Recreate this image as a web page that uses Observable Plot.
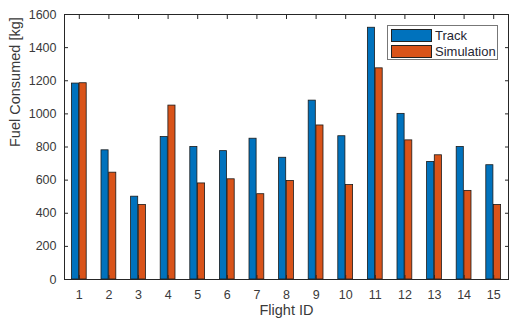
<!DOCTYPE html>
<html>
<head>
<meta charset="utf-8">
<script src="https://cdn.jsdelivr.net/npm/d3@7"></script>
<script src="https://cdn.jsdelivr.net/npm/@observablehq/plot@0.6"></script>
<style>
  html, body { margin: 0; padding: 0; background: #fff; }
  #wrap { position: relative; width: 512px; height: 323px; font-family: "Liberation Sans", Arial, sans-serif; }
  #legend { position: absolute; left: 387px; top: 25px; width: 111px; height: 35px; border: 1px solid #777; background: #fff; box-sizing: border-box; }
  .item { position: absolute; left: 3px; height: 13px; display: flex; align-items: center; font-size: 13px; color: #262633; }
  .sw { width: 41px; height: 13px; border: 1px solid #222; box-sizing: border-box; margin-right: 3px; }
</style>
</head>
<body>
<div id="wrap"></div>
<script>
const flights = [1,2,3,4,5,6,7,8,9,10,11,12,13,14,15];
const track = [1183, 780, 500, 860, 800, 775, 850, 735, 1080, 865, 1520, 1000, 710, 800, 690];
const simulation = [1185, 645, 450, 1050, 580, 605, 515, 595, 930, 570, 1275, 840, 750, 535, 450];
const seriesNames = ["Track", "Simulation"];
const seriesColors = ["#0072BD", "#D95319"];
const yTicks = [0,200,400,600,800,1000,1200,1400,1600];

const rows = [];
flights.forEach((f, i) => {
  rows.push({flight: f, series: "Track", value: track[i], x1: f - 0.25, x2: f - 0.01});
  rows.push({flight: f, series: "Simulation", value: simulation[i], x1: f + 0.01, x2: f + 0.25});
});

const ink = "#262626";
const tickCol = "#3a3a3a";
const blank = () => "";

const chart = Plot.plot({
  width: 512,
  height: 323,
  marginLeft: 64,
  marginRight: 4,
  marginTop: 14,
  marginBottom: 44,
  style: {fontFamily: "'Liberation Sans', Arial, sans-serif", background: "#fff", overflow: "visible"},
  x: {domain: [0.5, 15.5], ticks: flights},
  y: {domain: [0, 1600], ticks: yTicks},
  color: {domain: seriesNames, range: seriesColors},
  marks: [
    Plot.rectY(rows, {x1: "x1", x2: "x2", y1: 0, y2: "value", fill: "series", stroke: "#1a1a1a", strokeWidth: 0.8}),
    Plot.frame({stroke: ink, strokeWidth: 1}),
    // tick labels
    Plot.axisX({ticks: flights, tickSize: 0, tickPadding: 11, tickFormat: d3.format("d"), label: null, fontSize: 12.5, fill: tickCol}),
    Plot.axisY({ticks: yTicks, tickSize: 0, tickPadding: 8, tickFormat: d3.format("d"), label: null, fontSize: 12.5, fill: tickCol}),
    // inward tick marks on all four sides
    Plot.axisX({ticks: flights, anchor: "bottom", tickSize: 4, dy: -4, tickFormat: blank, label: null, stroke: ink}),
    Plot.axisX({ticks: flights, anchor: "top", tickSize: 4, dy: 4, tickFormat: blank, label: null, stroke: ink}),
    Plot.axisY({ticks: yTicks, anchor: "left", tickSize: 4, dx: 4, tickFormat: blank, label: null, stroke: ink}),
    Plot.axisY({ticks: yTicks, anchor: "right", tickSize: 4, dx: -4, tickFormat: blank, label: null, stroke: ink}),
    // axis titles
    Plot.text(["Flight ID"], {frameAnchor: "bottom", dy: 35, fontSize: 14.5, fill: tickCol}),
    Plot.text(["Fuel Consumed [kg]"], {frameAnchor: "left", rotate: -90, dx: -49, fontSize: 14.5, fill: tickCol})
  ]
});

const wrap = document.getElementById("wrap");
wrap.appendChild(chart);

const legend = document.createElement("div");
legend.id = "legend";
seriesNames.forEach((name, i) => {
  const item = document.createElement("div");
  item.className = "item";
  item.style.top = (i === 0 ? 3 : 19) + "px";
  const sw = document.createElement("div");
  sw.className = "sw";
  sw.style.background = seriesColors[i];
  const label = document.createElement("span");
  label.textContent = name;
  item.appendChild(sw);
  item.appendChild(label);
  legend.appendChild(item);
});
wrap.appendChild(legend);
</script>
</body>
</html>
